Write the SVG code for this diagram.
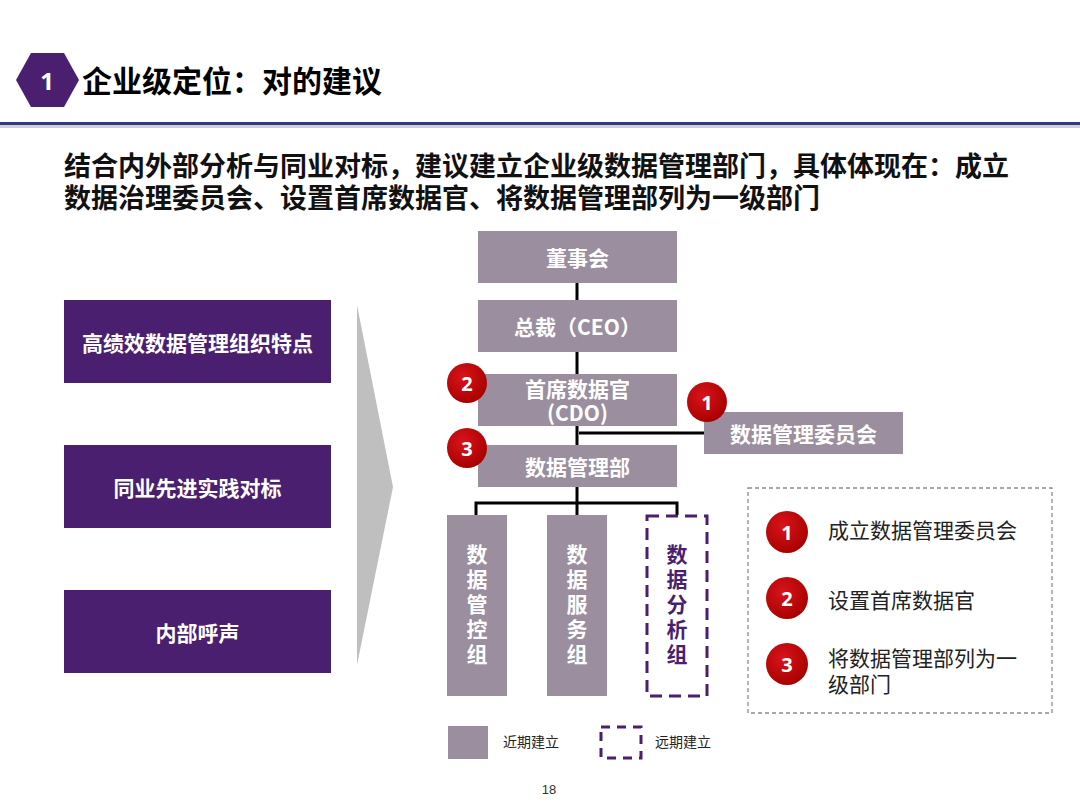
<svg xmlns="http://www.w3.org/2000/svg" width="1080" height="810" viewBox="0 0 1080 810">
<defs>
<style>
text{font-family:"Noto Sans CJK SC","Noto Sans",sans-serif;}
.b{font-weight:bold;}
.purple{fill:#4b1f6f;}
.gray{fill:#9a8e9f;}
.wt{fill:#ffffff;font-weight:bold;font-size:21px;text-anchor:middle;dominant-baseline:central;}
.vt{fill:#ffffff;font-weight:bold;font-size:21px;writing-mode:vertical-rl;letter-spacing:4px;}
.bt{fill:#ffffff;font-weight:bold;font-size:20px;text-anchor:middle;dominant-baseline:central;font-family:"Open Sans","Liberation Sans",sans-serif;}
.conn{stroke:#000;stroke-width:3;fill:none;}
.lt{fill:#222;font-size:21px;dominant-baseline:central;}
</style>
<radialGradient id="rg" cx="0.4" cy="0.35" r="0.7">
<stop offset="0" stop-color="#d8141a"/>
<stop offset="1" stop-color="#a50000"/>
</radialGradient>
</defs>
<rect width="1080" height="810" fill="#ffffff"/>

<g id="header">
<polygon points="16,80 31,53 64,53 79,80 64,107 31,107" class="purple"/>
<text x="47" y="80" class="bt" style="font-size:24px">1</text>
<text x="82" y="79" class="b" font-size="30" fill="#000" dominant-baseline="central">企业级定位：对的建议</text>
<rect x="0" y="125" width="1080" height="3" fill="#d0d0d8"/>
<rect x="0" y="122" width="1080" height="3" fill="#33397f"/>
</g>

<g id="subtitle">
<text class="b" font-size="27" fill="#111" dominant-baseline="central"><tspan x="64" y="164">结合内外部分析与同业对标，建议建立企业级数据管理部门，具体体现在：成立</tspan><tspan x="64" y="196">数据治理委员会、设置首席数据官、将数据管理部列为一级部门</tspan></text>
</g>

<g id="left1"><rect x="64" y="300" width="267" height="83" class="purple"/><text x="197.5" y="341.5" class="wt">高绩效数据管理组织特点</text></g>
<g id="left2"><rect x="64" y="445" width="267" height="83" class="purple"/><text x="197.5" y="486.5" class="wt">同业先进实践对标</text></g>
<g id="left3"><rect x="64" y="590" width="267" height="83" class="purple"/><text x="197.5" y="631.5" class="wt">内部呼声</text></g>

<g id="arrow"><polygon points="357,305 393,487 357,665" fill="#bfbfbf"/></g>

<g id="connectors">
<line x1="577" y1="283" x2="577" y2="300" class="conn"/>
<line x1="577" y1="352" x2="577" y2="374" class="conn"/>
<line x1="577" y1="426" x2="577" y2="445" class="conn"/>
<line x1="579" y1="433" x2="704" y2="433" class="conn"/>
<line x1="577" y1="487" x2="577" y2="515" class="conn"/>
<polyline points="476,515 476,503 677,503 677,515" class="conn"/>
</g>

<g id="board"><rect x="478" y="231" width="199" height="52" class="gray"/><text x="577.5" y="257" class="wt">董事会</text></g>
<g id="ceo"><rect x="478" y="300" width="199" height="52" class="gray"/><text x="577.5" y="326" class="wt">总裁（CEO）</text></g>
<g id="cdo"><rect x="478" y="374" width="199" height="52" class="gray"/><text class="wt"><tspan x="577.5" y="388">首席数据官</tspan><tspan x="577.5" y="412">(CDO)</tspan></text></g>
<g id="committee"><rect x="704" y="412" width="199" height="42" class="gray"/><text x="803.5" y="433" class="wt">数据管理委员会</text></g>
<g id="dept"><rect x="478" y="445" width="199" height="42" class="gray"/><text x="577.5" y="466" class="wt">数据管理部</text></g>

<g id="group1"><rect x="447" y="515" width="60" height="181" class="gray"/>
<text x="477" y="544" class="vt">数据管控组</text></g>
<g id="group2"><rect x="547" y="515" width="60" height="181" class="gray"/>
<text x="577" y="544" class="vt">数据服务组</text></g>
<g id="group3"><rect x="647" y="516" width="60" height="180" fill="none" stroke="#4b1f6f" stroke-width="3" stroke-dasharray="12,7"/>
<text x="677" y="544" class="vt" style="fill:#4b1f6f">数据分析组</text></g>

<g id="badge2"><circle cx="467" cy="383" r="20" fill="url(#rg)"/><text x="467" y="383" class="bt">2</text></g>
<g id="badge1"><circle cx="707" cy="402" r="20" fill="url(#rg)"/><text x="707" y="402" class="bt">1</text></g>
<g id="badge3"><circle cx="467" cy="448" r="20" fill="url(#rg)"/><text x="467" y="448" class="bt">3</text></g>

<g id="legend">
<rect x="448" y="726" width="40" height="33" class="gray"/>
<text x="503" y="741" font-size="14" fill="#222" dominant-baseline="central">近期建立</text>
<rect x="601" y="727" width="40" height="31" fill="none" stroke="#4b1f6f" stroke-width="3" stroke-dasharray="9,7"/>
<text x="655" y="741" font-size="14" fill="#222" dominant-baseline="central">远期建立</text>
</g>

<g id="summary">
<rect x="748" y="488" width="304" height="225" fill="none" stroke="#8a8a9a" stroke-width="1.3" stroke-dasharray="4,3"/>
<circle cx="787" cy="532" r="21" fill="url(#rg)"/><text x="787" y="532" class="bt">1</text>
<text x="828" y="529" class="lt">成立数据管理委员会</text>
<circle cx="787" cy="598" r="21" fill="url(#rg)"/><text x="787" y="598" class="bt">2</text>
<text x="828" y="599" class="lt">设置首席数据官</text>
<circle cx="787" cy="664" r="21" fill="url(#rg)"/><text x="787" y="664" class="bt">3</text>
<text class="lt"><tspan x="828" y="657">将数据管理部列为一</tspan><tspan x="828" y="683">级部门</tspan></text>
</g>

<text x="549" y="789" font-size="13" fill="#333" text-anchor="middle" dominant-baseline="central" style="font-family:'Liberation Sans',sans-serif">18</text>
</svg>
